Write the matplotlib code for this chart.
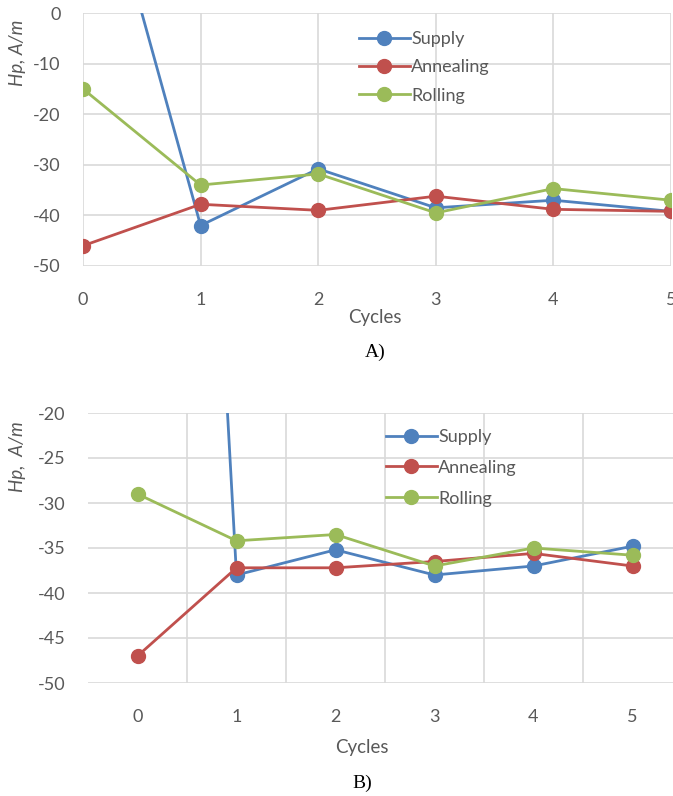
import matplotlib
matplotlib.use("Agg")
import matplotlib.pyplot as plt

# data
cycles = [0, 1, 2, 3, 4, 5]
labels = ["Supply", "Annealing", "Rolling"]

supply_a = [42, -42, -30.8, -38.5, -37, -39.2]
anneal_a = [-46, -37.8, -39, -36.2, -38.8, -39.2]
roll_a = [-15, -34, -31.8, -39.5, -34.7, -37]

supply_b = [160, -38, -35.2, -38, -37, -34.8]
anneal_b = [-47, -37.2, -37.2, -36.5, -35.6, -37]
roll_b = [-29, -34.2, -33.5, -37, -35, -35.8]

colors = ["#4F81BD", "#C0504D", "#9BBB59"]
gray = "#595959"
grid_c = "#D9D9D9"

plt.rcParams["font.family"] = ["Lato", "DejaVu Sans"]
plt.rcParams["axes.unicode_minus"] = False

fig = plt.figure(figsize=(6.73, 7.96), dpi=100)

def style(ax):
    for s in ax.spines.values():
        s.set_visible(False)
    ax.grid(True, color=grid_c, lw=1.2)
    ax.set_axisbelow(True)
    ax.tick_params(length=0, labelsize=13, colors=gray)

# ---- A
ax1 = fig.add_axes([83 / 673, 1 - 266 / 796, 588 / 673, 253 / 796])
for ys, c, lab in zip([supply_a, anneal_a, roll_a], colors, labels):
    ax1.plot(cycles, ys, color=c, lw=2.0, marker="o", ms=10, label=lab)
ax1.set_xlim(0, 5)
ax1.set_ylim(-50, 0)
ax1.set_yticks([0, -10, -20, -30, -40, -50])
ax1.set_xticks(cycles)
style(ax1)
ax1.tick_params(axis="x", pad=19)
ax1.tick_params(axis="y", pad=16)
fig.text(18 / 673, 1 - 53 / 796, "Hp, A/m", rotation=90, style="italic",
         color=gray, fontsize=13.5, ha="center", va="center")
fig.text(375 / 673, 1 - 318 / 796, "Cycles", color=gray, fontsize=13.5,
         ha="center", va="center")
fig.text(375 / 673, 1 - 352 / 796, "A)", family="Liberation Serif",
         fontsize=14, ha="center", va="center")
fig.legend(*ax1.get_legend_handles_labels(), loc="upper left",
           bbox_to_anchor=(359 / 673, 1 - 31 / 796), frameon=False,
           fontsize=13, labelcolor=gray, handlelength=2.8,
           handletextpad=0.1, labelspacing=0.68, borderpad=0, borderaxespad=0)

# ---- B
ax2 = fig.add_axes([88 / 673, 1 - 683 / 796, 594 / 673, 270 / 796])
for ys, c, lab in zip([supply_b, anneal_b, roll_b], colors, labels):
    ax2.plot(cycles, ys, color=c, lw=2.0, marker="o", ms=10, label=lab)
ax2.set_xlim(-0.5, 5.5)
ax2.set_ylim(-50, -20)
ax2.set_yticks([-20, -25, -30, -35, -40, -45, -50])
ax2.set_xticks(cycles)
ax2.set_xticks([x + 0.5 for x in cycles], minor=True)
style(ax2)
ax2.grid(False, axis="x", which="major")
ax2.grid(True, axis="x", which="minor", color=grid_c, lw=1.2)
ax2.tick_params(which="minor", length=0)
ax2.tick_params(axis="x", pad=19)
ax2.tick_params(axis="y", pad=16)
fig.text(18 / 673, 1 - 457 / 796, "Hp,  A/m", rotation=90, style="italic",
         color=gray, fontsize=13.5, ha="center", va="center")
fig.text(362 / 673, 1 - 748 / 796, "Cycles", color=gray, fontsize=13.5,
         ha="center", va="center")
fig.text(362 / 673, 1 - 783 / 796, "B)", family="Liberation Serif",
         fontsize=14, ha="center", va="center")
fig.legend(*ax2.get_legend_handles_labels(), loc="upper left",
           bbox_to_anchor=(386 / 673, 1 - 429 / 796), frameon=False,
           fontsize=13, labelcolor=gray, handlelength=2.8,
           handletextpad=0.1, labelspacing=0.82, borderpad=0, borderaxespad=0)

fig.savefig("out.png", dpi=100)
